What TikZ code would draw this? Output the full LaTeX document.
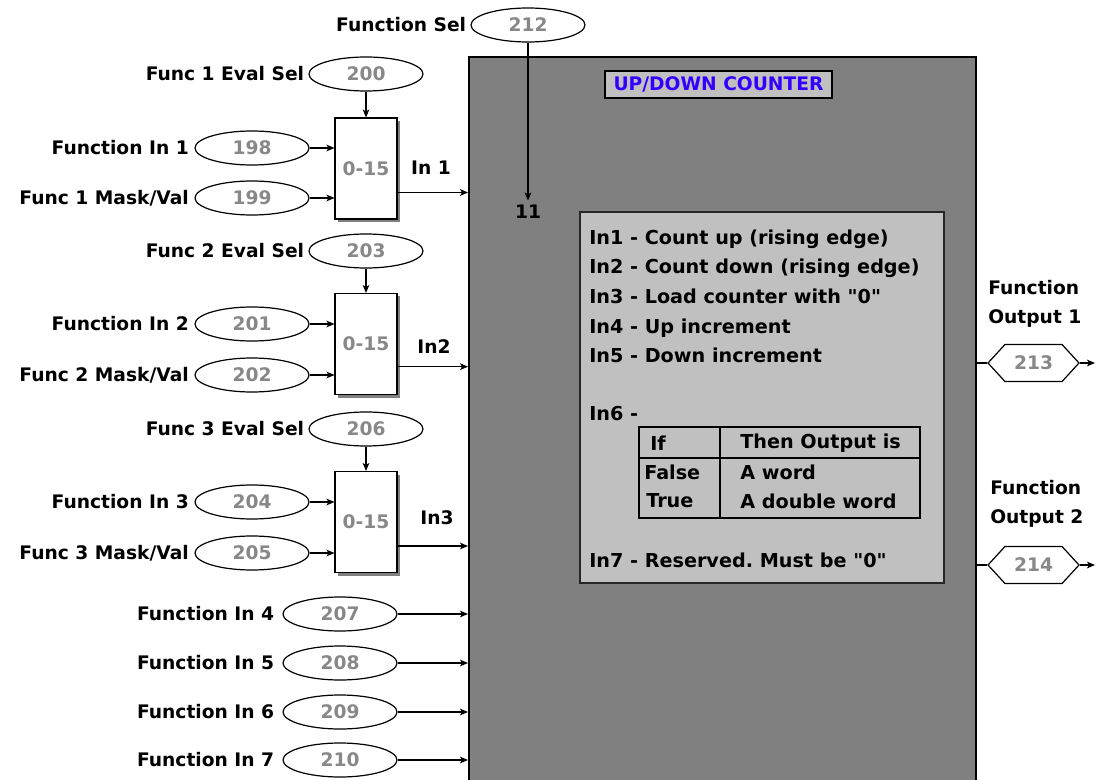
\documentclass[tikz,border=0pt]{standalone}
\usepackage{fontspec}
\newfontfamily\dvsans{DejaVu Sans}
\usetikzlibrary{positioning,arrows.meta,shapes.geometric,shapes.symbols,shadows}
\definecolor{boxgray}{RGB}{128,128,128}
\definecolor{panelgray}{RGB}{192,192,192}
\definecolor{numgray}{RGB}{136,136,136}
\definecolor{titleblue}{RGB}{51,0,255}
\tikzset{
    reg/.style={ellipse, draw=black, line width=0.9pt, minimum width=85.5pt, minimum height=25.5pt, inner sep=0pt, text=numgray},
    outreg/.style={signal, signal to=east and west, signal pointer angle=95, draw=black, line width=0.9pt, minimum width=68.25pt, minimum height=27.75pt, inner sep=0pt, text=numgray},
    mux/.style={rectangle, draw=black, line width=0.8pt, fill=white, minimum width=46.5pt, minimum height=75.75pt, text=numgray, drop shadow={fill=black!50, opacity=1, shadow xshift=2.25pt, shadow yshift=-2.25pt}},
    counter/.style={rectangle, draw=black, line width=1.5pt, fill=boxgray, anchor=north west, minimum width=380.25pt, minimum height=550.5pt},
    panel/.style={rectangle, draw=black!85, line width=1.5pt, fill=panelgray, anchor=north west, minimum width=273pt, minimum height=278.25pt},
    headbox/.style={rectangle, draw=black, line width=1.5pt, fill=panelgray, text=titleblue, minimum width=170pt, minimum height=20pt, inner sep=0pt},
    tablebox/.style={rectangle, draw=black, line width=1.2pt, anchor=north west, minimum width=210.75pt, minimum height=68.25pt},
    lbl/.style={inner sep=0pt},
    twoline/.style={inner sep=0pt, align=left, anchor=west, font=\dvsans\fontsize{14}{21.75}\selectfont\bfseries},
    note/.style={anchor=base west, inner sep=0pt, font=\dvsans\fontsize{14.4}{17}\selectfont\bfseries},
    cell/.style={anchor=west, inner sep=0pt, font=\dvsans\fontsize{14.4}{17}\selectfont\bfseries},
    line/.style={-{Stealth[length=6pt,width=5pt,inset=1.5pt]}, line width=0.9pt},
    wire/.style={line width=0.9pt},
}

\begin{document}
\begin{tikzpicture}
        [x=0.75pt, y=-0.75pt, font=\dvsans\fontsize{14}{17}\selectfont\bfseries]
        \useasboundingbox (0,0) rectangle (1098,780);

        % Counter block
        \node[counter] (counter) at (468,56) {};
        \node[headbox] (head) at (718.5,84.5) {UP/DOWN COUNTER};
        \node (n11) at (528,212) {11};

        % Function select
        \node[reg] (e212) at (528,25) {212};
        \node[lbl, left=3pt of e212] {Function Sel};

        % Function 1
        \node[reg] (e200) at (366,74) {200};
        \node[lbl, left=3pt of e200] {Func 1 Eval Sel};
        \node[mux] (mux1) at (366,168.5) {0-15};
        \node[reg] (e198) at (252,148) {198};
        \node[lbl, left=4pt of e198] {Function In 1};
        \node[reg] (e199) at (252,198) {199};
        \node[lbl, left=4pt of e199] {Func 1 Mask/Val};
        \coordinate (m1o) at ([yshift=-18pt]mux1.east);
        \node (lin1) at (431,168) {In 1};

        % Function 2
        \node[reg] (e203) at (366,251) {203};
        \node[lbl, left=3pt of e203] {Func 2 Eval Sel};
        \node[mux] (mux2) at (366,344) {0-15};
        \node[reg] (e201) at (252,324) {201};
        \node[lbl, left=4pt of e201] {Function In 2};
        \node[reg] (e202) at (252,375) {202};
        \node[lbl, left=4pt of e202] {Func 2 Mask/Val};
        \coordinate (m2o) at ([yshift=-17pt]mux2.east);
        \node (lin2) at (434,347) {In2};

        % Function 3
        \node[reg] (e206) at (366,429) {206};
        \node[lbl, left=3pt of e206] {Func 3 Eval Sel};
        \node[mux] (mux3) at (366,522) {0-15};
        \node[reg] (e204) at (252,502) {204};
        \node[lbl, left=4pt of e204] {Function In 3};
        \node[reg] (e205) at (252,553) {205};
        \node[lbl, left=4pt of e205] {Func 3 Mask/Val};
        \coordinate (m3o) at ([yshift=-18pt]mux3.east);
        \node (lin3) at (437,518) {In3};

        % Function inputs 4 to 7
        \node[reg] (e207) at (340,614) {207};
        \node[lbl, left=6pt of e207] {Function In 4};
        \node[reg] (e208) at (340,663) {208};
        \node[lbl, left=6pt of e208] {Function In 5};
        \node[reg] (e209) at (340,712) {209};
        \node[lbl, left=6pt of e209] {Function In 6};
        \node[reg] (e210) at (340,760) {210};
        \node[lbl, left=6pt of e210] {Function In 7};

        % Outputs
        \node[outreg] (e213) at (1033.5,363) {213};
        \node[outreg] (e214) at (1033.5,565) {214};
        \node[twoline] at (988,303.5) {Function\\Output 1};
        \node[twoline] at (990,504) {Function\\Output 2};
        \coordinate (o1tip) at (1095,363);
        \coordinate (o2tip) at (1095,565);

        % Description panel
        \node[panel] (panel) at (579,211) {};
        \node[note] at (589,245) {In1 - Count up (rising edge)};
        \node[note] at (589,274) {In2 - Count down (rising edge)};
        \node[note] at (589,304) {In3 - Load counter with "0"};
        \node[note] at (589,333) {In4 - Up increment};
        \node[note] at (589,362) {In5 - Down increment};
        \node[note] at (589,420) {In6 -};
        \node[note] at (589,567) {In7 - Reserved.\ Must be "0"};

        % Table for In6
        \node[tablebox] (tbl) at (638,426) {};
        \draw[line width=1.2pt] ([yshift=-24pt]tbl.north west) -- ([yshift=-24pt]tbl.north east);
        \draw[line width=1.2pt] ([xshift=61.5pt]tbl.north west) -- ([xshift=61.5pt]tbl.south west);
        \node[cell] at (650,443) {If};
        \node[cell] at (740,443) {Then Output is};
        \node[cell] at (644,472) {False};
        \node[cell] at (740,472) {A word};
        \node[cell] at (646,501) {True};
        \node[cell] at (740,501) {A double word};

        % Lines
        \draw[line] (e212) -- (e212 |- n11.north);
        \draw[line] (e200) -- (mux1);
        \draw[line] (e198) -- (e198 -| mux1.west);
        \draw[line] (e199) -- (e199 -| mux1.west);
        \draw[line] (m1o) -- (m1o -| counter.west);
        \draw[line] (e203) -- (mux2);
        \draw[line] (e201) -- (e201 -| mux2.west);
        \draw[line] (e202) -- (e202 -| mux2.west);
        \draw[line] (m2o) -- (m2o -| counter.west);
        \draw[line] (e206) -- (mux3);
        \draw[line] (e204) -- (e204 -| mux3.west);
        \draw[line] (e205) -- (e205 -| mux3.west);
        \draw[line] (m3o) -- (m3o -| counter.west);
        \draw[line] (e207) -- (e207 -| counter.west);
        \draw[line] (e208) -- (e208 -| counter.west);
        \draw[line] (e209) -- (e209 -| counter.west);
        \draw[line] (e210) -- (e210 -| counter.west);
        \draw[wire] (e213 -| counter.east) -- (e213.west);
        \draw[wire] (e214 -| counter.east) -- (e214.west);
        \draw[line] (e213.east) -- (o1tip);
        \draw[line] (e214.east) -- (o2tip);

    \end{tikzpicture}
\end{document}
